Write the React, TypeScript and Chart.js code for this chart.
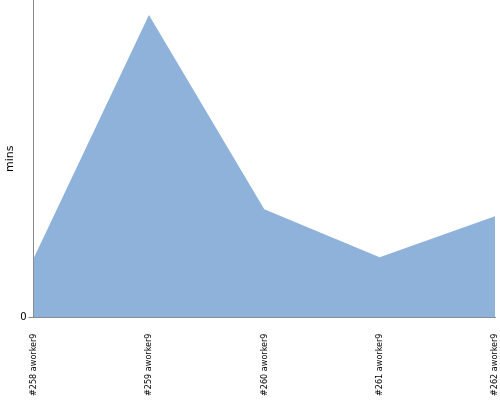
import React, { useEffect, useRef } from "react";
import { Chart, registerables } from "chart.js";

Chart.register(...registerables);

const categories = ["#258 aworker9", "#259 aworker9", "#260 aworker9", "#261 aworker9", "#262 aworker9"];
const minsValues = [1.95, 10.0, 3.58, 1.99, 3.35];
const yMax = 10.5;
const yTickValues = [0];

export default function App() {
  const ref = useRef<HTMLCanvasElement | null>(null);
  useEffect(() => {
    if (!ref.current) return;
    const chart = new Chart(ref.current, {
      type: "line",
      data: {
        labels: categories,
        datasets: [
          {
            label: "mins",
            data: minsValues,
            fill: "origin",
            backgroundColor: "rgb(143,178,218)",
            borderColor: "rgb(143,178,218)",
            borderWidth: 0,
            pointRadius: 0,
            tension: 0,
          },
        ],
      },
      options: {
        animation: false,
        responsive: false,
        maintainAspectRatio: false,
        layout: { padding: { top: 0, right: 5, bottom: -12, left: 4 } },
        plugins: { legend: { display: false }, tooltip: { enabled: false } },
        scales: {
          x: {
            offset: false,
            afterFit: (scale: any) => {
              scale.paddingLeft = 0;
              scale.paddingRight = 0;
            },
            grid: { display: false, drawTicks: false },
            border: { display: true, color: "#888888", width: 1 },
            ticks: {
              minRotation: 90,
              maxRotation: 90,
              autoSkip: false,
              padding: 16,
              color: "#000",
              font: { family: "DejaVu Sans Condensed", size: 9 },
            },
          },
          y: {
            min: 0,
            max: yMax,
            afterBuildTicks: (scale: any) => {
              scale.ticks = yTickValues.map((v) => ({ value: v }));
            },
            afterFit: (scale: any) => {
              scale.paddingTop = 0;
              scale.paddingBottom = 0;
            },
            grid: { drawOnChartArea: false, drawTicks: true, tickLength: 5, color: "#888888" },
            border: { display: true, color: "#888888", width: 1 },
            ticks: { color: "#000", padding: 2, font: { family: "DejaVu Sans", size: 10 } },
            title: {
              display: true,
              text: "mins",
              color: "#000",
              padding: { top: 0, bottom: 1 },
              font: { family: "DejaVu Sans", size: 11 },
            },
          },
        },
      },
    });
    return () => chart.destroy();
  }, []);
  return (
    <div style={{ position: "fixed", left: 0, top: 0, width: 500, height: 400, background: "#fff" }}>
      <canvas ref={ref} width={500} height={400} style={{ width: 500, height: 400 }} />
    </div>
  );
}
